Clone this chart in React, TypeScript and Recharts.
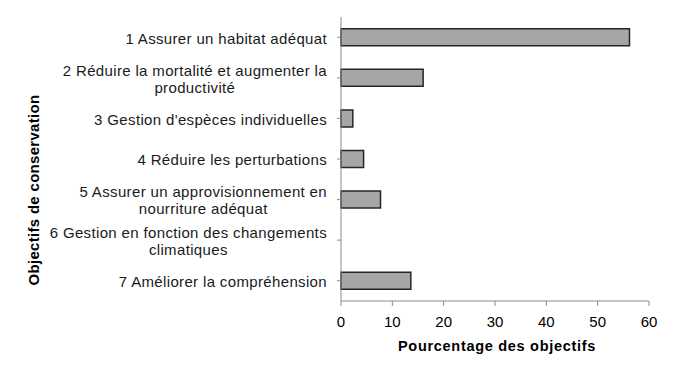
import React from "react";
import { BarChart, Bar, XAxis, YAxis, Label } from "recharts";

const categories = [
  "1 Assurer un habitat adéquat",
  "2 Réduire la mortalité et augmenter la\nproductivité",
  "3 Gestion d'espèces individuelles",
  "4 Réduire les perturbations",
  "5 Assurer un approvisionnement en\nnourriture adéquat",
  "6 Gestion en fonction des changements\nclimatiques",
  "7 Améliorer la compréhension",
];
const percentages = [56.2, 16.0, 2.3, 4.4, 7.7, 0, 13.6];
const xTicks = [0, 10, 20, 30, 40, 50, 60];

const data = categories.map((name, i) => ({ name, value: percentages[i] }));

const FONT = "'Liberation Sans', Arial, sans-serif";
const FS = 15;
const LS = 0.35;

function WrappedTick({ x, y, payload }: any) {
  const lines = String(payload.value).split("\n");
  const lh = 17;
  const start = y - ((lines.length - 1) * lh) / 2 + 1;
  return (
    <g>
      <text x={x} y={start} dy="0.36em" textAnchor="end" fontFamily={FONT} fontSize={FS} letterSpacing={LS} fill="#1a1a1a">
        {lines[0]}
      </text>
      {lines.length > 1 && <CenteredSecond x={x} y={start + lh} text={lines[1]} first={lines[0]} />}
    </g>
  );
}

function CenteredSecond({ x, y, text, first }: any) {
  // centre the second line under the first one, as Excel does
  const ref = React.useRef<SVGTextElement>(null);
  const [cx, setCx] = React.useState<number | null>(null);
  React.useLayoutEffect(() => {
    const el = ref.current;
    if (!el) return;
    const w = el.getComputedTextLength();
    setCx(x - w / 2);
  }, [x, first]);
  return (
    <>
      <text ref={ref} x={-1000} y={-1000} fontFamily={FONT} fontSize={FS} letterSpacing={LS} visibility="hidden">
        {first}
      </text>
      <text
        x={cx ?? x}
        y={y}
        dy="0.36em"
        textAnchor={cx === null ? "end" : "middle"}
        fontFamily={FONT}
        fontSize={FS}
        letterSpacing={LS}
        fill="#1a1a1a"
      >
        {text}
      </text>
    </>
  );
}

export default function App() {
  return (
    <div style={{ position: "absolute", left: 0, top: 0, background: "#fff" }}>
      <BarChart
        width={678}
        height={375}
        data={data}
        layout="vertical"
        margin={{ top: 17, right: 29, bottom: 0, left: 0 }}
        barCategoryGap="29%"
      >
        <XAxis
          type="number"
          domain={[0, 60]}
          ticks={xTicks}
          interval={0}
          height={74}
          stroke="#8c8c8c"
          tickSize={5}
          tickMargin={10}
          tick={{ fill: "#000", fontSize: FS, fontFamily: FONT }}
        >
          <Label
            content={({ viewBox }: any) => (
              <text
                x={viewBox.x + viewBox.width / 2 + 2}
                y={351}
                textAnchor="middle"
                fontFamily={FONT}
                fontSize={14.5}
                fontWeight="bold"
                letterSpacing={0.7}
                fill="#000"
              >
                Pourcentage des objectifs
              </text>
            )}
          />
        </XAxis>
        <YAxis
          type="category"
          dataKey="name"
          width={341}
          stroke="#8c8c8c"
          tickSize={4}
          tickMargin={10}
          interval={0}
          tick={<WrappedTick />}
        >
          <Label
            content={() => (
              <text
                x={39}
                y={190}
                transform="rotate(-90 39 190)"
                textAnchor="middle"
                fontFamily={FONT}
                fontSize={15}
                fontWeight="bold"
                letterSpacing={0.3}
                fill="#000"
              >
                Objectifs de conservation
              </text>
            )}
          />
        </YAxis>
        <Bar dataKey="value" fill="#a6a6a6" stroke="#262626" strokeWidth={1.5} isAnimationActive={false} />
      </BarChart>
    </div>
  );
}
